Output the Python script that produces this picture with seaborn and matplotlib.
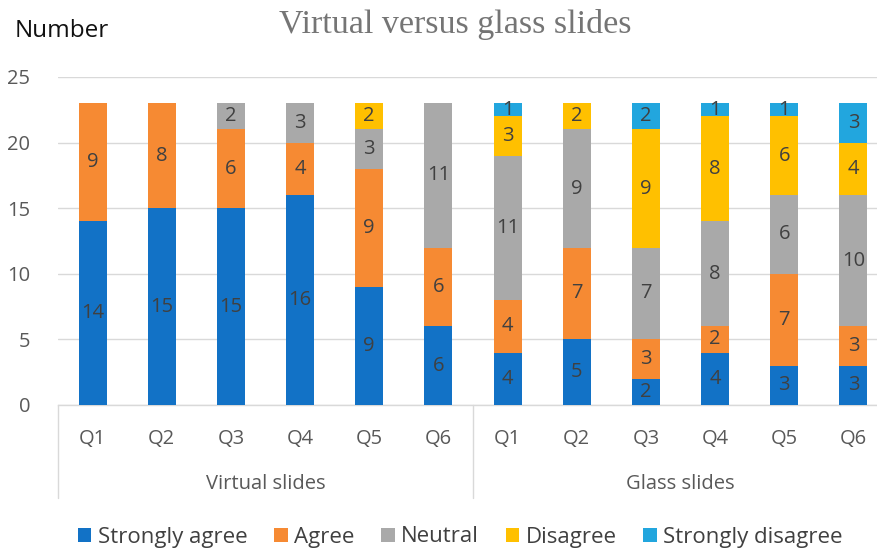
import numpy as np
import pandas as pd
import matplotlib
matplotlib.use("Agg")
import matplotlib.pyplot as plt
from matplotlib.patches import Patch
import seaborn as sns

groups = ["Virtual slides", "Glass slides"]
questions = ["Q1", "Q2", "Q3", "Q4", "Q5", "Q6"]
levels = ["Strongly agree", "Agree", "Neutral", "Disagree", "Strongly disagree"]
strongly_agree = [14, 15, 15, 16, 9, 6, 4, 5, 2, 4, 3, 3]
agree = [9, 8, 6, 4, 9, 6, 4, 7, 3, 2, 7, 3]
neutral = [0, 0, 2, 3, 3, 11, 11, 9, 7, 8, 6, 10]
disagree = [0, 0, 0, 0, 2, 0, 3, 2, 9, 8, 6, 4]
strongly_disagree = [0, 0, 0, 0, 0, 0, 1, 0, 2, 1, 1, 3]
y_ticks = [0, 5, 10, 15, 20, 25]

colors = ["#1272C6", "#F68A33", "#A9A9A9", "#FFC000", "#22A6DE"]
series = [strongly_agree, agree, neutral, disagree, strongly_disagree]

keys = [f"{g}|{q}" for g in groups for q in questions]
df = pd.DataFrame({"key": keys})
vals = np.array(series)
cum = np.cumsum(vals, axis=0)
for i in range(len(levels)):
    df[f"cum{i}"] = cum[i]

sns.set_style("white")
plt.rcParams["font.family"] = ["Open Sans", "DejaVu Sans"]

fig = plt.figure(figsize=(8.77, 5.49), dpi=100)
ax = fig.add_axes([58 / 877, 1 - 405 / 549, 830 / 877, 328 / 549])

for i in reversed(range(len(levels))):
    sns.barplot(data=df, x="key", y=f"cum{i}", order=keys, color=colors[i],
                width=0.405, saturation=1, errorbar=None, linewidth=0,
                ax=ax, zorder=3)

# segment labels
for j in range(len(keys)):
    prev = 0
    for i in range(len(levels)):
        v = vals[i, j]
        if v > 0:
            ax.text(j, prev + v / 2, str(v), ha="center", va="center",
                    fontsize=14.5, color="#404040", zorder=5)
        prev += v

ax.set_ylim(0, 25)
ax.set_xlim(-0.5, len(keys) - 0.5)
ax.set_yticks(y_ticks)
ax.set_yticklabels([str(t) for t in y_ticks], fontsize=14.5, color="#595959")
ax.set_xticks(range(len(keys)))
ax.set_xticklabels([k.split("|")[1] for k in keys], fontsize=14.5, color="#595959")
ax.tick_params(axis="both", length=0)
ax.tick_params(axis="x", pad=17)
ax.tick_params(axis="y", pad=20)
ax.set_xlabel("")
ax.set_ylabel("")
ax.yaxis.grid(True, color="#D9D9D9", linewidth=1, zorder=0)
ax.set_axisbelow(True)
for s in ["top", "right", "left"]:
    ax.spines[s].set_visible(False)
ax.spines["bottom"].set_color("#D9D9D9")
ax.spines["bottom"].set_linewidth(1)

# group separators and labels
n = len(questions)
sep_depth = -(498 - 405) / 328 * 25
for k in range(len(groups) + 1):
    xs = k * n - 0.5
    ax.plot([xs, xs], [0, sep_depth], color="#D9D9D9", linewidth=1,
            clip_on=False, zorder=1)
for k, g in enumerate(groups):
    ax.text(k * n + (n - 1) / 2, -(484 - 405) / 328 * 25, g, ha="center",
            va="center", fontsize=14.5, color="#595959")

fig.text(0.519, 1 - 25 / 549, "Virtual versus glass slides", ha="center", va="center",
         fontsize=24.5, color="#757575", family=["Liberation Serif", "DejaVu Serif"])
fig.text(15 / 877, 1 - 31 / 549, "Number", ha="left", va="center",
         fontsize=17.5, color="#111111")

handles = [Patch(facecolor=c, edgecolor="none") for c in colors]
fig.legend(handles, levels, loc="center", bbox_to_anchor=(0.525, 1 - 537 / 549),
           ncol=5, frameon=False, fontsize=16, handlelength=0.6, handleheight=0.6,
           handletextpad=0.3, columnspacing=1.2, labelcolor="#404040")

fig.savefig("out.png", dpi=100)
